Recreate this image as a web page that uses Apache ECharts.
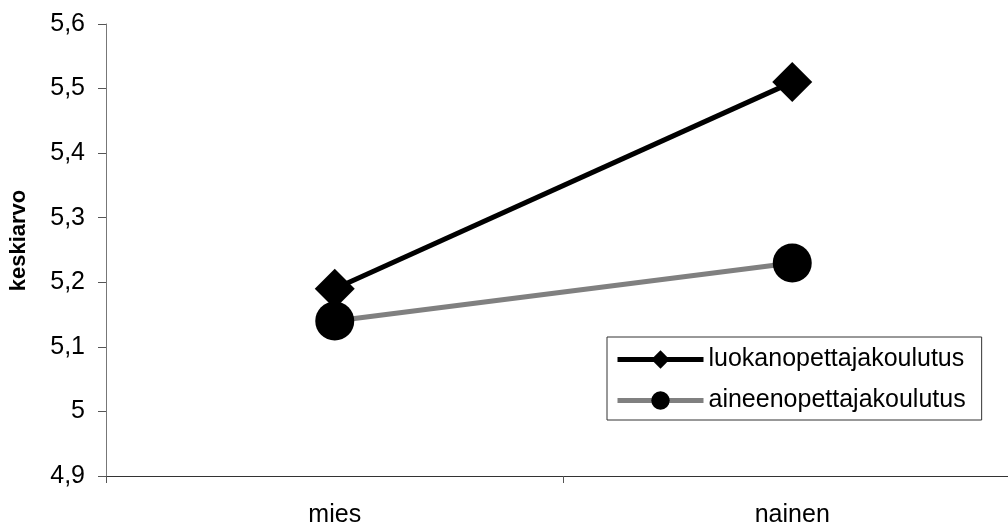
<!DOCTYPE html>
<html>
<head>
<meta charset="utf-8">
<script src="https://cdn.jsdelivr.net/npm/echarts@6/dist/echarts.min.js"></script>
<style>html,body{margin:0;padding:0;background:#fff;overflow:hidden;width:1008px;height:528px}#c{width:1030px;height:528px}</style>
</head>
<body>
<div id="c"></div>
<script>
const categories = ['mies', 'nainen'];
const luokan = [5.19, 5.51];
const aineen = [5.14, 5.23];
const yTicks = { min: 4.9, max: 5.6, interval: 0.1 };
const seriesNames = ['luokanopettajakoulutus', 'aineenopettajakoulutus'];

const font = '"Liberation Sans", Arial, sans-serif';
const chart = echarts.init(document.getElementById('c'));
chart.setOption({
  animation: false,
  backgroundColor: '#fff',
  grid: { left: 106, top: 24, width: 915, height: 455, containLabel: false },
  xAxis: {
    type: 'category',
    data: categories,
    boundaryGap: true,
    axisLine: { lineStyle: { color: '#333', width: 1 } },
    axisTick: { show: true, length: 7, lineStyle: { color: '#555' } },
    axisLabel: { color: '#000', fontSize: 25, fontFamily: font, margin: 27 },
    splitLine: { show: false }
  },
  yAxis: {
    type: 'value',
    min: yTicks.min, max: yTicks.max, interval: yTicks.interval,
    name: 'keskiarvo',
    nameLocation: 'middle',
    nameGap: 76,
    nameTextStyle: { color: '#000', fontSize: 22, fontWeight: 'bold', fontFamily: font, padding: [0, 0, 0, 19] },
    axisLine: { show: true, lineStyle: { color: '#777', width: 1 } },
    axisTick: { show: true, length: 8, lineStyle: { color: '#555' } },
    axisLabel: {
      color: '#000', fontSize: 25, fontFamily: font, margin: 21,
      formatter: v => String(Math.round(v * 10) / 10).replace('.', ',')
    },
    splitLine: { show: false }
  },
  legend: {
    orient: 'vertical',
    left: 607, top: 337,
    padding: [10, 16, 7, 8],
    itemGap: 16,
    itemWidth: 86, itemHeight: 23,
    borderColor: '#333', borderWidth: 1,
    backgroundColor: '#fff',
    lineStyle: { width: 5 },
    textStyle: { color: '#000', fontSize: 25, fontFamily: font },
    data: seriesNames
  },
  series: [
    {
      name: seriesNames[0], type: 'line', data: luokan,
      symbol: 'diamond', symbolSize: 40,
      itemStyle: { color: '#000' },
      lineStyle: { color: '#000', width: 5 },
      z: 3
    },
    {
      name: seriesNames[1], type: 'line', data: aineen,
      symbol: 'circle', symbolSize: 39,
      itemStyle: { color: '#000' },
      lineStyle: { color: '#808080', width: 5 },
      z: 4
    }
  ]
});
</script>
</body>
</html>
